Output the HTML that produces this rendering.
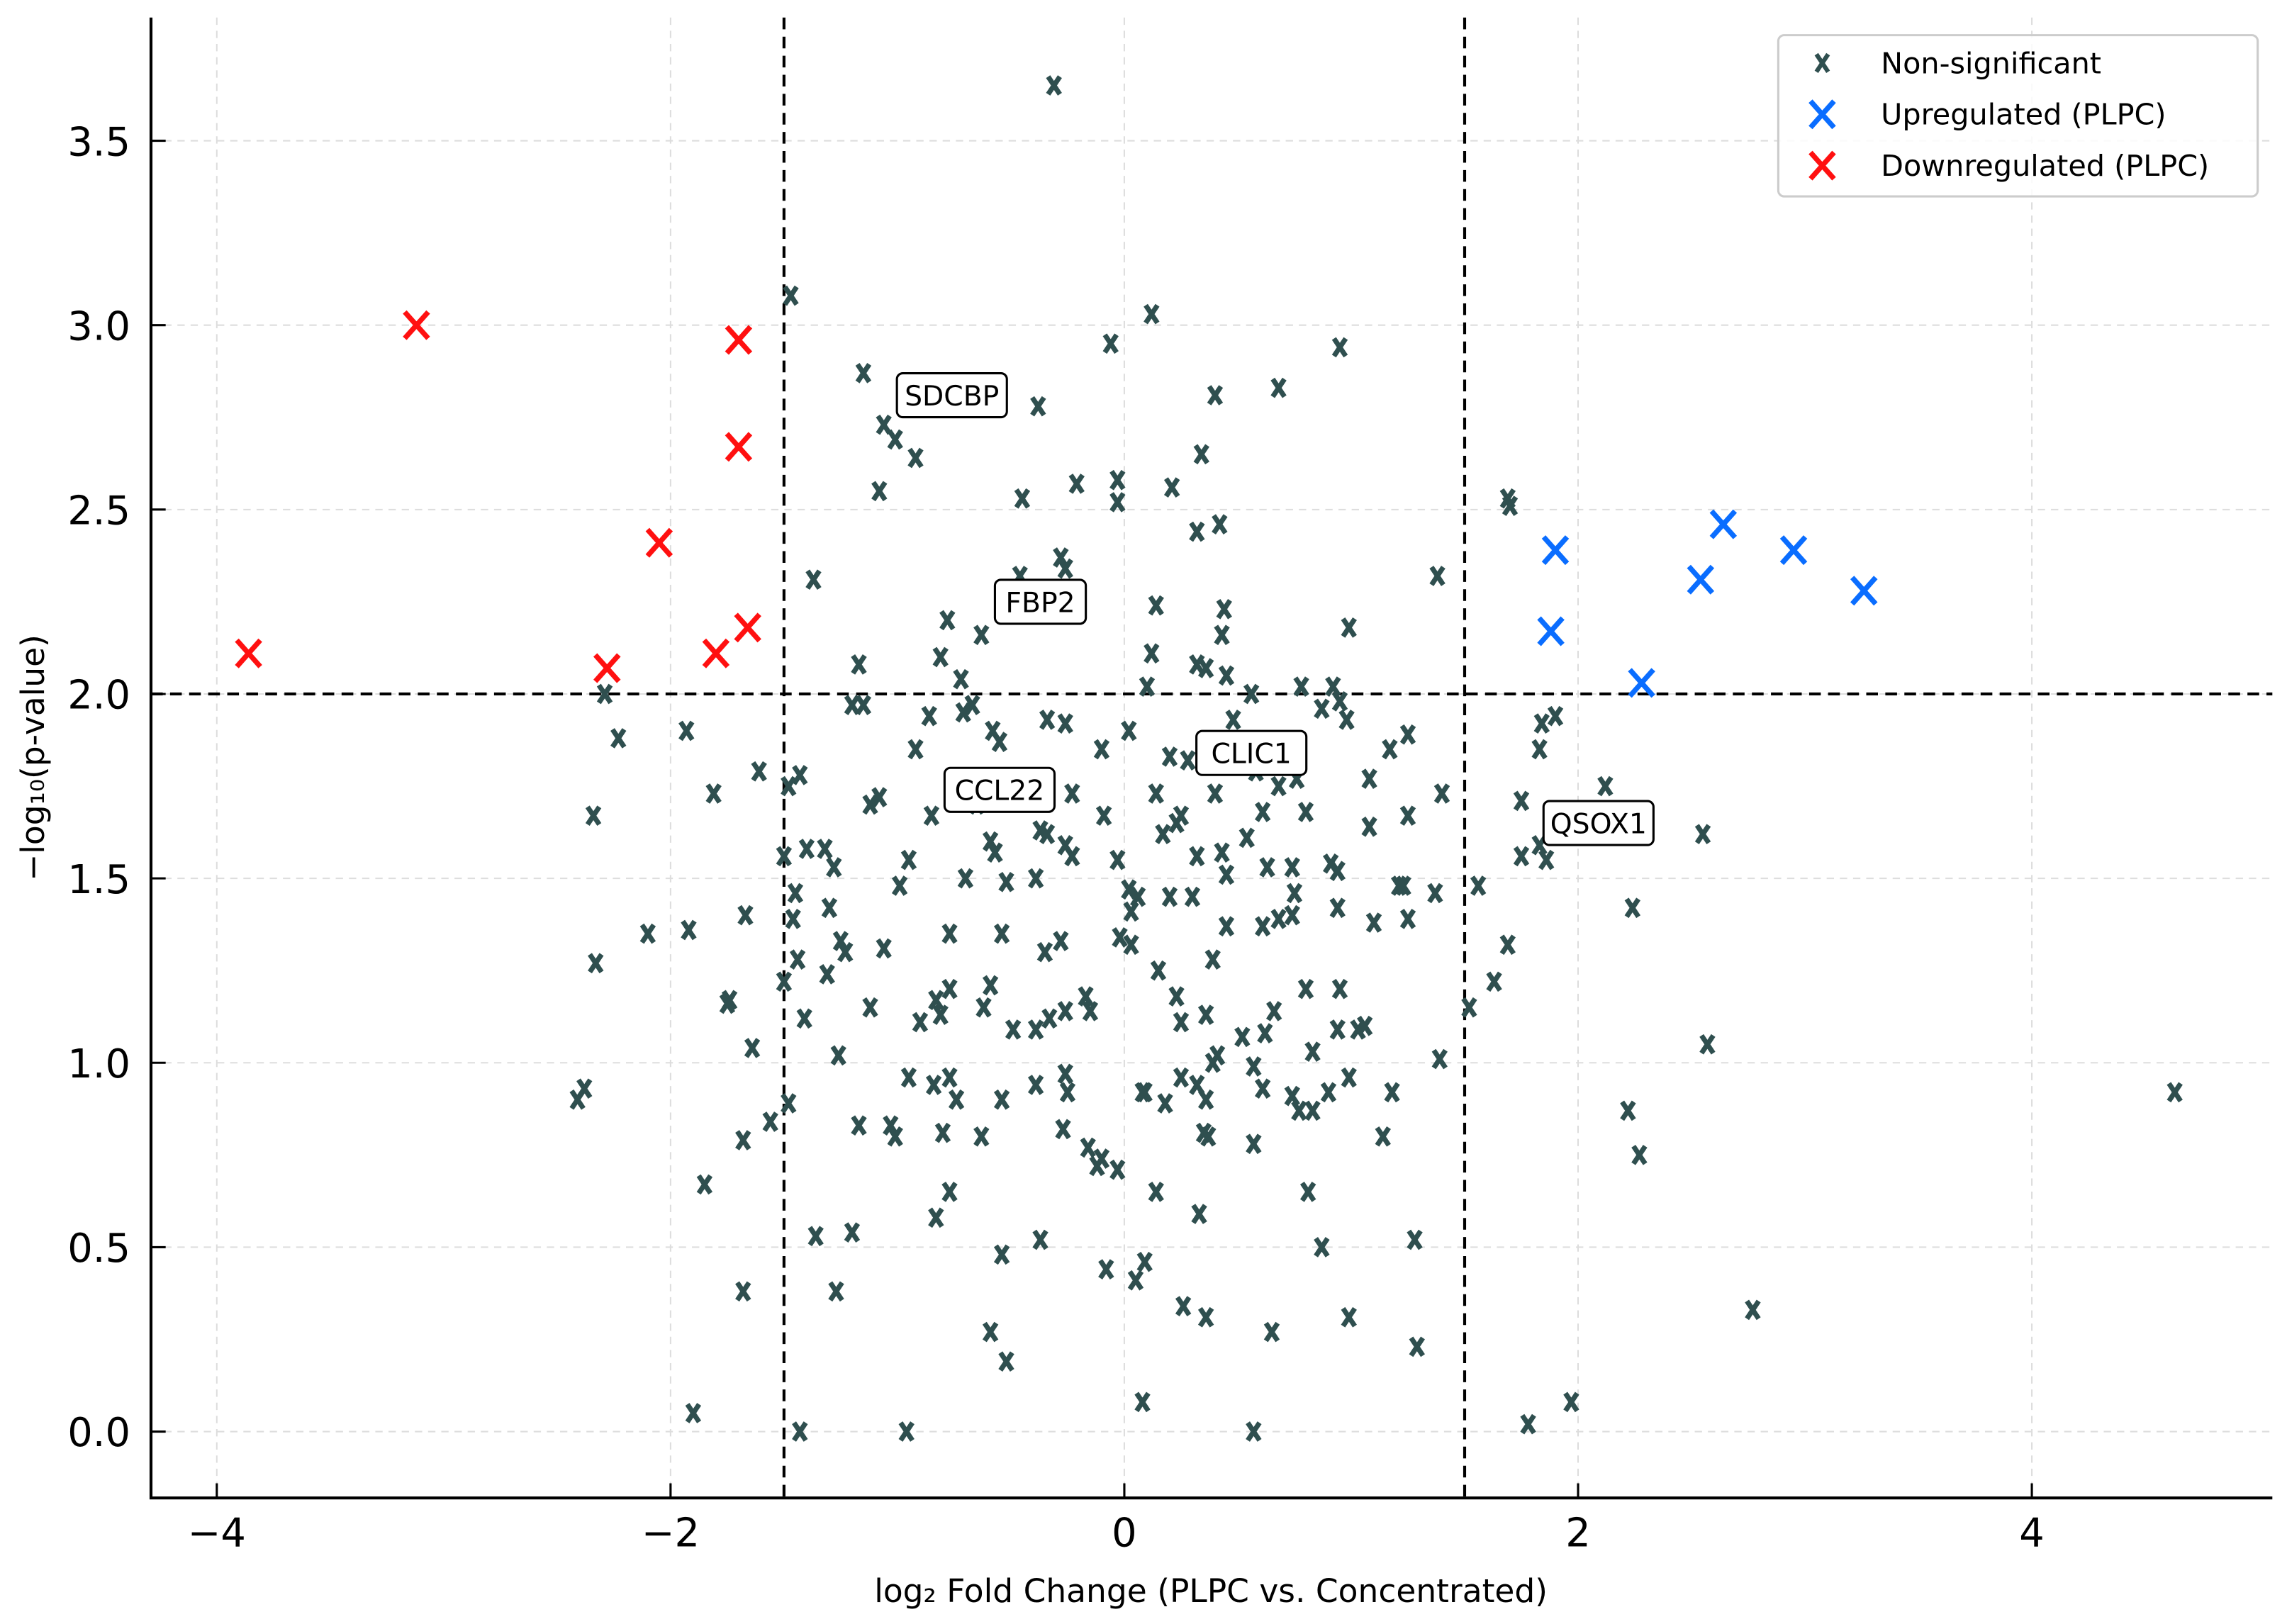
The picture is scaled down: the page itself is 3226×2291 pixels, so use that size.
<!DOCTYPE html>
<html><head><meta charset="utf-8"><style>
html,body{margin:0;padding:0;background:#fff;}
svg{display:block;}
text{font-family:"DejaVu Sans","Liberation Sans",sans-serif;}
</style></head><body>
<svg id="chart" width="3226" height="2291" viewBox="0 0 1560 1108" preserveAspectRatio="none" xmlns="http://www.w3.org/2000/svg">
<g id="grid"></g>
<g id="thresh"></g>
<g id="points"></g>
<g id="labels"></g>
<g id="axes"></g>
<g>
<rect x="1213" y="24" width="327" height="110" rx="4" fill="#fff" fill-opacity="0.85" stroke="#ccc" stroke-width="1.5"/>
<g>
<path d="M1239,37 L1247,49 M1247,37 L1239,49" stroke="#2f4f4f" stroke-width="3"/>
<text x="1283" y="50" font-size="20">Non-significant</text></g>
<g>
<path d="M1235,69 L1251,87 M1251,69 L1235,87" stroke="#0a6dff" stroke-width="3.5"/>
<text x="1283" y="85" font-size="20">Upregulated (PLPC)</text></g>
<g>
<path d="M1235,104 L1251,122 M1251,104 L1235,122" stroke="#ff1010" stroke-width="3.5"/>
<text x="1283" y="120" font-size="20">Downregulated (PLPC)</text></g>
</g>
<text x="826" y="1093" font-size="22" text-anchor="middle">log₂ Fold Change (PLPC vs. Concentrated)</text>
<text x="0" y="0" font-size="22" text-anchor="middle" transform="translate(30,517) rotate(-90)">−log₁₀(p-value)</text>
</svg>
<script>
const xTicks=[-4,-2,0,2,4];
const xTickLabels=["−4","−2","0","2","4"];
const yTicks=[0,0.5,1,1.5,2,2.5,3,3.5];
const yTickLabels=["0.0","0.5","1.0","1.5","2.0","2.5","3.0","3.5"];
const fcThreshold=1.5;
const pThreshold=2;
const downX=[-3.86,-3.12,-1.70,-1.70,-2.05,-2.28,-1.80,-1.66];
const downY=[2.11,3.00,2.96,2.67,2.41,2.07,2.11,2.18];
const upX=[1.90,1.88,2.64,2.54,2.95,3.26,2.28];
const upY=[2.39,2.17,2.46,2.31,2.39,2.28,2.03];
const nsX=[-0.31,-1.47,0.12,-0.06,0.95,-1.15,-0.38,0.40,0.68,-1.06,-1.01,-0.92,-1.08,-0.21,-0.45,-0.03,-0.03,0.21,0.34,1.69,1.70,0.42,0.32,-0.28,-0.26,-0.46,-1.37,1.38,0.14,0.44,0.43,-0.78,0.99,-0.63,-1.17,-1.15,-0.81,-0.72,0.12,0.10,0.32,0.36,0.45,0.56,0.78,0.92,0.95,0.98,0.87,-2.29,-2.23,-1.93,-1.20,-0.67,-0.71,-0.58,-0.55,-0.86,-0.92,-0.34,-0.26,-0.10,0.02,0.48,1.25,1.17,1.08,0.71,0.58,0.20,0.28,0.40,0.68,0.76,0.61,0.80,-0.23,-0.09,0.14,0.25,-1.08,-1.12,-1.61,-1.43,-1.48,-1.81,-2.34,-0.85,-0.65,-0.37,-0.34,-0.59,-0.57,-0.26,-0.23,-0.03,0.17,0.23,0.32,0.43,0.45,0.30,0.54,0.63,0.74,0.75,0.91,0.94,1.08,1.25,1.40,1.75,1.75,1.83,1.56,1.86,2.55,1.84,1.83,1.90,2.12,-1.32,-1.40,-1.50,-1.28,-0.95,-0.99,-0.70,-0.52,-0.39,0.02,0.06,0.03,0.20,0.45,0.68,0.74,0.94,1.10,1.21,1.23,1.37,1.69,1.63,1.52,1.25,2.24,-1.67,-1.46,-1.45,-1.30,-1.25,-1.23,-1.06,-0.77,-0.54,-0.35,-0.28,-0.59,-0.77,-0.83,-0.81,-0.62,-0.49,-0.33,-0.39,-0.26,-0.15,-0.17,-0.02,0.03,0.15,0.23,0.25,0.39,0.61,0.66,0.62,0.52,0.41,0.36,0.80,0.95,0.94,0.83,1.03,1.18,-0.90,-1.12,-1.31,-1.44,-1.50,-1.41,-1.74,-1.75,-1.64,-1.92,-2.10,-2.33,-2.38,-2.41,-1.68,-1.56,-1.48,-1.26,-1.17,-1.03,-1.01,-0.95,-0.84,-0.77,-0.74,-0.63,-0.80,-0.83,-0.77,-0.54,-0.39,-0.26,-0.25,-0.27,-0.10,-0.12,-0.03,0.09,0.08,0.18,0.25,0.32,0.35,0.39,0.36,0.57,0.61,0.74,0.77,0.83,0.90,0.99,1.06,1.14,1.39,2.22,2.27,2.57,4.63,2.77,1.78,1.97,1.29,1.28,0.99,0.87,0.81,0.57,0.57,0.37,0.33,0.36,0.26,0.09,0.05,0.08,-0.08,0.14,-0.37,-0.52,-0.59,-0.54,-1.20,-1.36,-1.27,-1.85,-1.68,-1.90,-1.43,-0.96,-0.16,0.65];
const nsY=[3.65,3.08,3.03,2.95,2.94,2.87,2.78,2.81,2.83,2.73,2.69,2.64,2.55,2.57,2.53,2.58,2.52,2.56,2.65,2.53,2.51,2.46,2.44,2.37,2.34,2.32,2.31,2.32,2.24,2.23,2.16,2.20,2.18,2.16,2.08,1.97,2.10,2.04,2.11,2.02,2.08,2.07,2.05,2.00,2.02,2.02,1.98,1.93,1.96,2.00,1.88,1.90,1.97,1.97,1.95,1.90,1.87,1.94,1.85,1.93,1.92,1.85,1.90,1.93,1.89,1.85,1.77,1.86,1.79,1.83,1.82,1.73,1.75,1.77,1.68,1.68,1.73,1.67,1.73,1.67,1.72,1.70,1.79,1.78,1.75,1.73,1.67,1.67,1.70,1.63,1.62,1.60,1.57,1.59,1.56,1.55,1.62,1.65,1.56,1.57,1.51,1.45,1.61,1.53,1.53,1.46,1.54,1.52,1.64,1.67,1.73,1.71,1.56,1.59,1.48,1.55,1.62,1.92,1.85,1.94,1.75,1.58,1.58,1.56,1.53,1.55,1.48,1.50,1.49,1.50,1.47,1.45,1.41,1.45,1.37,1.39,1.40,1.42,1.38,1.48,1.48,1.46,1.32,1.22,1.15,1.39,1.42,1.40,1.39,1.46,1.42,1.33,1.30,1.31,1.35,1.35,1.30,1.33,1.21,1.20,1.17,1.13,1.15,1.09,1.12,1.09,1.14,1.14,1.18,1.34,1.32,1.25,1.18,1.11,1.28,1.37,1.14,1.08,1.07,1.02,1.13,1.20,1.20,1.09,1.03,1.09,0.92,1.11,1.15,1.24,1.28,1.22,1.12,1.17,1.16,1.04,1.36,1.35,1.27,0.93,0.90,0.79,0.84,0.89,1.02,0.83,0.83,0.80,0.96,0.94,0.96,0.90,0.80,0.81,0.58,0.65,0.90,0.94,0.97,0.92,0.82,0.74,0.72,0.71,0.92,0.92,0.89,0.96,0.94,0.81,1.00,0.90,0.99,0.93,0.91,0.87,0.87,0.92,0.96,1.10,0.80,1.01,0.87,0.75,1.05,0.92,0.33,0.02,0.08,0.23,0.52,0.31,0.50,0.65,0.78,0.00,0.80,0.59,0.31,0.34,0.46,0.41,0.08,0.44,0.65,0.52,0.19,0.27,0.48,0.54,0.53,0.38,0.67,0.38,0.05,0.00,0.00,0.77,0.27];
const geneNames=["SDCBP","FBP2","CLIC1","CCL22","QSOX1"];
const geneX=[-0.76,-0.37,0.56,-0.55,2.09];
const geneY=[2.81,2.25,1.84,1.74,1.65];

const NS="http://www.w3.org/2000/svg";
const L=103,R=1550,T=12,B=1022;
const xmin=-4.29,xmax=5.06,ymin=-0.18,ymax=3.834;
const sx=v=>L+(v-xmin)/(xmax-xmin)*(R-L);
const sy=v=>B-(v-ymin)/(ymax-ymin)*(B-T);
function mk(tag,attrs,parent){const e=document.createElementNS(NS,tag);for(const k in attrs)e.setAttribute(k,attrs[k]);parent.appendChild(e);return e;}
const grid=document.getElementById('grid'),axes=document.getElementById('axes'),pts=document.getElementById('points'),thr=document.getElementById('thresh'),lab=document.getElementById('labels');
xTicks.forEach((t,i)=>{
  const g=mk('line',{x1:sx(t),x2:sx(t),y1:T,y2:B,stroke:'#ddd','stroke-width':1,'stroke-dasharray':'5,4'},grid);
  
  
  const tk=mk('line',{x1:sx(t),x2:sx(t),y1:B,y2:B-10,stroke:'#000','stroke-width':1.5},axes);
  
  
  const tl=mk('text',{x:sx(t),y:B+33,'font-size':27,'text-anchor':'middle'},axes);
  tl.textContent=xTickLabels[i];
  
  
});
yTicks.forEach((t,i)=>{
  const g=mk('line',{x1:L,x2:R,y1:sy(t),y2:sy(t),stroke:'#ddd','stroke-width':1,'stroke-dasharray':'5,4'},grid);
  
  
  const tk=mk('line',{x1:L,x2:L+10,y1:sy(t),y2:sy(t),stroke:'#000','stroke-width':1.5},axes);
  
  
  const tl=mk('text',{x:L-14,y:sy(t)+10,'font-size':27,'text-anchor':'end'},axes);
  tl.textContent=yTickLabels[i];
  
  
});
[[-fcThreshold,'v'],[fcThreshold,'v'],[pThreshold,'h']].forEach(([v,o])=>{
  const a=o==='v'?{x1:sx(v),x2:sx(v),y1:T,y2:B}:{x1:L,x2:R,y1:sy(v),y2:sy(v)};
  a.stroke='#000';a['stroke-width']=2;a['stroke-dasharray']='8,5';
  const l=mk('line',a,thr);
  
  
});
const ax=mk('path',{d:`M${L},${T} L${L},${B} L${R},${B}`,fill:'none',stroke:'#000','stroke-width':2},axes);


nsX.forEach((x,i)=>{
  const cx=sx(x),cy=sy(nsY[i]);
  const p=mk('path',{d:`M${cx-4},${cy-6} L${cx+4},${cy+6} M${cx+4},${cy-6} L${cx-4},${cy+6}`,stroke:'#2f4f4f','stroke-width':3.4},pts);
  
  
});
function big(xs,ys,col,name){xs.forEach((x,i)=>{
  const cx=sx(x),cy=sy(ys[i]);
  const p=mk('path',{d:`M${cx-8},${cy-9} L${cx+8},${cy+9} M${cx+8},${cy-9} L${cx-8},${cy+9}`,stroke:col,'stroke-width':3.5},pts);
  
  
});}
big(upX,upY,'#0a6dff','point-upregulated');
big(downX,downY,'#ff1010','point-downregulated');
geneNames.forEach((n,i)=>{
  const cx=sx(geneX[i]),cy=sy(geneY[i]);
  const w=n.length*13+10;
  const r=mk('rect',{x:cx-w/2,y:cy-15,width:w,height:30,rx:4,fill:'#fff',stroke:'#000','stroke-width':1.5},lab);
  
  
  const t=mk('text',{x:cx,y:cy+7,'font-size':19,'text-anchor':'middle'},lab);
  t.textContent=n;
  
  
});
</script>
</body></html>
